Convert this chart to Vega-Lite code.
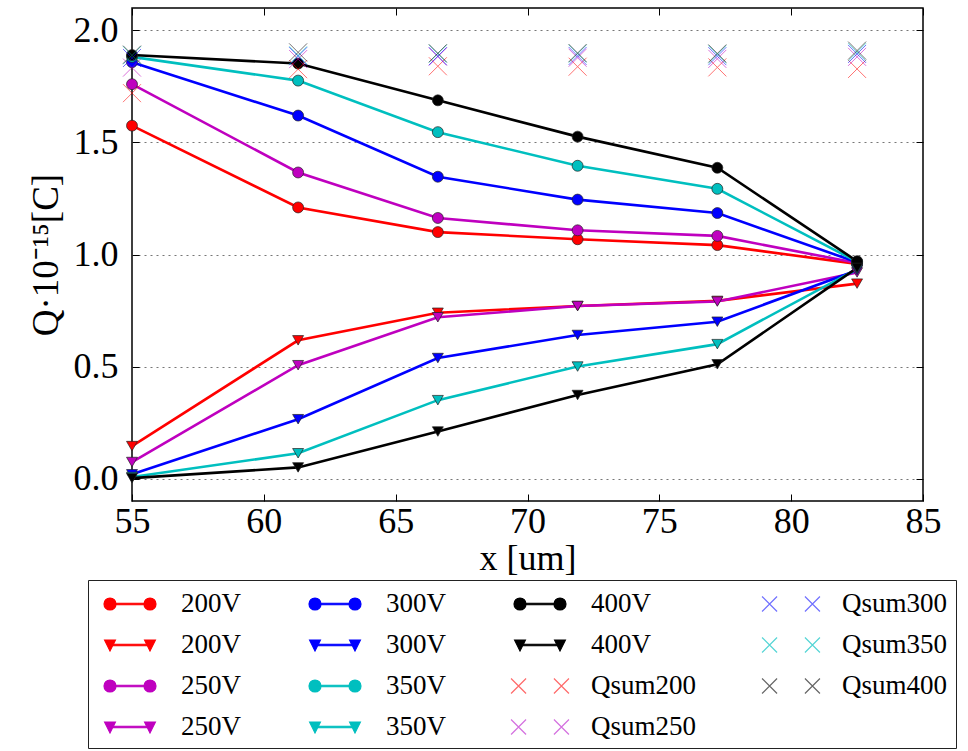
{
  "$schema": "https://vega.github.io/schema/vega-lite/v6.json",
  "autosize": {"type": "none"},
  "padding": {"left": 132, "top": 8, "right": 45, "bottom": 250},
  "width": 791,
  "height": 493,
  "background": "#ffffff",
  "config": {
    "view": {"stroke": "#000000", "strokeWidth": 1.5},
    "font": "Liberation Serif",
    "axis": {"labelFont": "Liberation Serif", "titleFont": "Liberation Serif", "labelColor": "#000", "titleColor": "#000", "titleFontWeight": "normal", "tickColor": "#000", "domain": false, "labelFlush": false},
    "legend": {"labelFont": "Liberation Serif", "labelColor": "#000"}
  },
  "data": {"values": [
    {"x": 55, "q": 1.575, "v": "200", "k": "c"}, {"x": 61.3, "q": 1.21, "v": "200", "k": "c"}, {"x": 66.6, "q": 1.10, "v": "200", "k": "c"}, {"x": 71.9, "q": 1.068, "v": "200", "k": "c"}, {"x": 77.2, "q": 1.042, "v": "200", "k": "c"}, {"x": 82.5, "q": 0.958, "v": "200", "k": "c"},
    {"x": 55, "q": 0.145, "v": "200", "k": "t"}, {"x": 61.3, "q": 0.617, "v": "200", "k": "t"}, {"x": 66.6, "q": 0.74, "v": "200", "k": "t"}, {"x": 71.9, "q": 0.77, "v": "200", "k": "t"}, {"x": 77.2, "q": 0.793, "v": "200", "k": "t"}, {"x": 82.5, "q": 0.87, "v": "200", "k": "t"},
    {"x": 55, "q": 1.76, "v": "250", "k": "c"}, {"x": 61.3, "q": 1.366, "v": "250", "k": "c"}, {"x": 66.6, "q": 1.163, "v": "250", "k": "c"}, {"x": 71.9, "q": 1.108, "v": "250", "k": "c"}, {"x": 77.2, "q": 1.083, "v": "250", "k": "c"}, {"x": 82.5, "q": 0.962, "v": "250", "k": "c"},
    {"x": 55, "q": 0.074, "v": "250", "k": "t"}, {"x": 61.3, "q": 0.506, "v": "250", "k": "t"}, {"x": 66.6, "q": 0.72, "v": "250", "k": "t"}, {"x": 71.9, "q": 0.77, "v": "250", "k": "t"}, {"x": 77.2, "q": 0.79, "v": "250", "k": "t"}, {"x": 82.5, "q": 0.92, "v": "250", "k": "t"},
    {"x": 55, "q": 1.858, "v": "300", "k": "c"}, {"x": 61.3, "q": 1.62, "v": "300", "k": "c"}, {"x": 66.6, "q": 1.347, "v": "300", "k": "c"}, {"x": 71.9, "q": 1.245, "v": "300", "k": "c"}, {"x": 77.2, "q": 1.185, "v": "300", "k": "c"}, {"x": 82.5, "q": 0.965, "v": "300", "k": "c"},
    {"x": 55, "q": 0.019, "v": "300", "k": "t"}, {"x": 61.3, "q": 0.265, "v": "300", "k": "t"}, {"x": 66.6, "q": 0.538, "v": "300", "k": "t"}, {"x": 71.9, "q": 0.641, "v": "300", "k": "t"}, {"x": 77.2, "q": 0.70, "v": "300", "k": "t"}, {"x": 82.5, "q": 0.93, "v": "300", "k": "t"},
    {"x": 55, "q": 1.882, "v": "350", "k": "c"}, {"x": 61.3, "q": 1.776, "v": "350", "k": "c"}, {"x": 66.6, "q": 1.546, "v": "350", "k": "c"}, {"x": 71.9, "q": 1.396, "v": "350", "k": "c"}, {"x": 77.2, "q": 1.293, "v": "350", "k": "c"}, {"x": 82.5, "q": 0.968, "v": "350", "k": "c"},
    {"x": 55, "q": 0.007, "v": "350", "k": "t"}, {"x": 61.3, "q": 0.113, "v": "350", "k": "t"}, {"x": 66.6, "q": 0.35, "v": "350", "k": "t"}, {"x": 71.9, "q": 0.50, "v": "350", "k": "t"}, {"x": 77.2, "q": 0.60, "v": "350", "k": "t"}, {"x": 82.5, "q": 0.935, "v": "350", "k": "t"},
    {"x": 55, "q": 1.89, "v": "400", "k": "c"}, {"x": 61.3, "q": 1.852, "v": "400", "k": "c"}, {"x": 66.6, "q": 1.688, "v": "400", "k": "c"}, {"x": 71.9, "q": 1.526, "v": "400", "k": "c"}, {"x": 77.2, "q": 1.387, "v": "400", "k": "c"}, {"x": 82.5, "q": 0.97, "v": "400", "k": "c"},
    {"x": 55, "q": 0.002, "v": "400", "k": "t"}, {"x": 61.3, "q": 0.05, "v": "400", "k": "t"}, {"x": 66.6, "q": 0.21, "v": "400", "k": "t"}, {"x": 71.9, "q": 0.373, "v": "400", "k": "t"}, {"x": 77.2, "q": 0.51, "v": "400", "k": "t"}, {"x": 82.5, "q": 0.94, "v": "400", "k": "t"},
    {"x": 55, "q": 1.72, "v": "200", "k": "s"}, {"x": 61.3, "q": 1.827, "v": "200", "k": "s"}, {"x": 66.6, "q": 1.84, "v": "200", "k": "s"}, {"x": 71.9, "q": 1.838, "v": "200", "k": "s"}, {"x": 77.2, "q": 1.835, "v": "200", "k": "s"}, {"x": 82.5, "q": 1.828, "v": "200", "k": "s"},
    {"x": 55, "q": 1.834, "v": "250", "k": "s"}, {"x": 61.3, "q": 1.872, "v": "250", "k": "s"}, {"x": 66.6, "q": 1.883, "v": "250", "k": "s"}, {"x": 71.9, "q": 1.878, "v": "250", "k": "s"}, {"x": 77.2, "q": 1.873, "v": "250", "k": "s"}, {"x": 82.5, "q": 1.882, "v": "250", "k": "s"},
    {"x": 55, "q": 1.877, "v": "300", "k": "s"}, {"x": 61.3, "q": 1.885, "v": "300", "k": "s"}, {"x": 66.6, "q": 1.885, "v": "300", "k": "s"}, {"x": 71.9, "q": 1.886, "v": "300", "k": "s"}, {"x": 77.2, "q": 1.885, "v": "300", "k": "s"}, {"x": 82.5, "q": 1.895, "v": "300", "k": "s"},
    {"x": 55, "q": 1.889, "v": "350", "k": "s"}, {"x": 61.3, "q": 1.889, "v": "350", "k": "s"}, {"x": 66.6, "q": 1.896, "v": "350", "k": "s"}, {"x": 71.9, "q": 1.896, "v": "350", "k": "s"}, {"x": 77.2, "q": 1.893, "v": "350", "k": "s"}, {"x": 82.5, "q": 1.903, "v": "350", "k": "s"},
    {"x": 55, "q": 1.892, "v": "400", "k": "s"}, {"x": 61.3, "q": 1.902, "v": "400", "k": "s"}, {"x": 66.6, "q": 1.898, "v": "400", "k": "s"}, {"x": 71.9, "q": 1.899, "v": "400", "k": "s"}, {"x": 77.2, "q": 1.897, "v": "400", "k": "s"}, {"x": 82.5, "q": 1.91, "v": "400", "k": "s"}
  ]},
  "resolve": {"axis": {"x": "independent", "y": "independent"}},
  "layer": [
    {
      "transform": [{"filter": "datum.k !== 's'"}],
      "mark": {"type": "line", "strokeWidth": 2.6},
      "encoding": {
        "x": {"field": "x", "type": "quantitative", "scale": {"domain": [55, 85], "nice": false, "zero": false},
              "axis": {"orient": "top", "values": [55, 60, 65, 70, 75, 80, 85], "labels": false, "title": null, "tickSize": -7, "grid": false}},
        "y": {"field": "q", "type": "quantitative", "scale": {"domain": [-0.1, 2.1], "nice": false, "zero": false},
              "axis": {"orient": "right", "values": [0, 0.5, 1, 1.5, 2], "labels": false, "title": null, "tickSize": -7, "grid": false}},
        "color": {"field": "v", "type": "nominal", "scale": {"domain": ["200", "250", "300", "350", "400"], "range": ["#ff0000", "#bf00bf", "#0000ff", "#00bfbf", "#000000"]}, "legend": null},
        "detail": [{"field": "v"}, {"field": "k"}]
      }
    },
    {
      "transform": [{"filter": "datum.k === 'c'"}],
      "mark": {"type": "point", "shape": "circle", "filled": true, "size": 120, "opacity": 1, "stroke": "#222222", "strokeWidth": 0.7},
      "encoding": {
        "x": {"field": "x", "type": "quantitative",
              "axis": {"orient": "bottom", "values": [55, 60, 65, 70, 75, 80, 85], "labelFontSize": 36, "title": "x [um]", "titleFontSize": 36, "tickSize": -7, "labelPadding": 10, "titlePadding": 2, "grid": false}},
        "y": {"field": "q", "type": "quantitative",
              "axis": {"orient": "left", "values": [0, 0.5, 1, 1.5, 2], "format": ".1f", "labelFontSize": 36, "title": "Q·10⁻¹⁵[C]", "titleFontSize": 37, "grid": true, "gridDash": [2, 4], "gridColor": "#777777", "gridWidth": 1, "tickSize": -7, "labelPadding": 21, "titlePadding": 8}},
        "color": {"field": "v", "type": "nominal", "legend": null}
      }
    },
    {
      "transform": [{"filter": "datum.k === 't'"}],
      "mark": {"type": "point", "shape": "triangle-down", "filled": true, "size": 120, "opacity": 1, "stroke": "#222222", "strokeWidth": 0.7},
      "encoding": {
        "x": {"field": "x", "type": "quantitative", "axis": null},
        "y": {"field": "q", "type": "quantitative", "axis": null},
        "color": {"field": "v", "type": "nominal", "legend": null}
      }
    },
    {
      "transform": [{"filter": "datum.k === 's'"}],
      "mark": {"type": "point", "shape": "M-1,-1L1,1M-1,1L1,-1", "filled": false, "size": 324, "opacity": 0.55, "strokeWidth": 1},
      "encoding": {
        "x": {"field": "x", "type": "quantitative", "axis": null},
        "y": {"field": "q", "type": "quantitative", "axis": null},
        "color": {"field": "v", "type": "nominal", "legend": null}
      }
    },
    {
      "transform": [{"filter": "false"}],
      "mark": {"type": "point", "filled": true, "opacity": 1, "size": 900},
      "encoding": {
        "shape": {"field": "e", "type": "nominal",
          "scale": {"domain": ["200V|c", "200V|t", "250V|c", "250V|t", "300V|c", "300V|t", "350V|c", "350V|t", "400V|c", "400V|t", "Qsum200|s", "Qsum250|s", "Qsum300|s", "Qsum350|s", "Qsum400|s"],
                    "range": [
                      "M-1.333,-0.05L1.333,-0.05L1.333,0.05L-1.333,0.05ZM-1.733,0A0.4,0.4,0,1,1,-0.933,0A0.4,0.4,0,1,1,-1.733,0ZM0.933,0A0.4,0.4,0,1,1,1.733,0A0.4,0.4,0,1,1,0.933,0Z",
                      "M-1.333,-0.05L1.333,-0.05L1.333,0.05L-1.333,0.05ZM-1.693,-0.33L-0.973,-0.33L-1.333,0.4ZM0.973,-0.33L1.693,-0.33L1.333,0.4Z",
                      "M-1.333,-0.05L1.333,-0.05L1.333,0.05L-1.333,0.05ZM-1.733,0A0.4,0.4,0,1,1,-0.933,0A0.4,0.4,0,1,1,-1.733,0ZM0.933,0A0.4,0.4,0,1,1,1.733,0A0.4,0.4,0,1,1,0.933,0Z",
                      "M-1.333,-0.05L1.333,-0.05L1.333,0.05L-1.333,0.05ZM-1.693,-0.33L-0.973,-0.33L-1.333,0.4ZM0.973,-0.33L1.693,-0.33L1.333,0.4Z",
                      "M-1.333,-0.05L1.333,-0.05L1.333,0.05L-1.333,0.05ZM-1.733,0A0.4,0.4,0,1,1,-0.933,0A0.4,0.4,0,1,1,-1.733,0ZM0.933,0A0.4,0.4,0,1,1,1.733,0A0.4,0.4,0,1,1,0.933,0Z",
                      "M-1.333,-0.05L1.333,-0.05L1.333,0.05L-1.333,0.05ZM-1.693,-0.33L-0.973,-0.33L-1.333,0.4ZM0.973,-0.33L1.693,-0.33L1.333,0.4Z",
                      "M-1.333,-0.05L1.333,-0.05L1.333,0.05L-1.333,0.05ZM-1.733,0A0.4,0.4,0,1,1,-0.933,0A0.4,0.4,0,1,1,-1.733,0ZM0.933,0A0.4,0.4,0,1,1,1.733,0A0.4,0.4,0,1,1,0.933,0Z",
                      "M-1.333,-0.05L1.333,-0.05L1.333,0.05L-1.333,0.05ZM-1.693,-0.33L-0.973,-0.33L-1.333,0.4ZM0.973,-0.33L1.693,-0.33L1.333,0.4Z",
                      "M-1.333,-0.05L1.333,-0.05L1.333,0.05L-1.333,0.05ZM-1.733,0A0.4,0.4,0,1,1,-0.933,0A0.4,0.4,0,1,1,-1.733,0ZM0.933,0A0.4,0.4,0,1,1,1.733,0A0.4,0.4,0,1,1,0.933,0Z",
                      "M-1.333,-0.05L1.333,-0.05L1.333,0.05L-1.333,0.05ZM-1.693,-0.33L-0.973,-0.33L-1.333,0.4ZM0.973,-0.33L1.693,-0.33L1.333,0.4Z",
                      "M-1.93,-0.5L-0.93,0.5M-1.93,0.5L-0.93,-0.5M0.93,-0.5L1.93,0.5M0.93,0.5L1.93,-0.5",
                      "M-1.93,-0.5L-0.93,0.5M-1.93,0.5L-0.93,-0.5M0.93,-0.5L1.93,0.5M0.93,0.5L1.93,-0.5",
                      "M-1.93,-0.5L-0.93,0.5M-1.93,0.5L-0.93,-0.5M0.93,-0.5L1.93,0.5M0.93,0.5L1.93,-0.5",
                      "M-1.93,-0.5L-0.93,0.5M-1.93,0.5L-0.93,-0.5M0.93,-0.5L1.93,0.5M0.93,0.5L1.93,-0.5",
                      "M-1.93,-0.5L-0.93,0.5M-1.93,0.5L-0.93,-0.5M0.93,-0.5L1.93,0.5M0.93,0.5L1.93,-0.5"
                    ]},
          "legend": {"title": null, "orient": "none", "legendX": -44, "legendY": 572, "columns": 4, "symbolSize": 900, "symbolOffset": 18, "labelOffset": 35, "rowPadding": 12, "columnPadding": 60, "padding": 8, "labelFont": "Liberation Serif", "labelFontSize": 27, "labelColor": "#000", "strokeColor": "#222222", "fillColor": "#ffffff", "symbolStrokeWidth": 1.2, "labelLimit": 300, "labelExpr": "split(datum.label, '|')[0]"}},
        "fill": {"field": "e", "type": "nominal",
          "scale": {"domain": ["200V|c", "200V|t", "250V|c", "250V|t", "300V|c", "300V|t", "350V|c", "350V|t", "400V|c", "400V|t", "Qsum200|s", "Qsum250|s", "Qsum300|s", "Qsum350|s", "Qsum400|s"],
                    "range": ["#ff0000", "#ff0000", "#bf00bf", "#bf00bf", "#0000ff", "#0000ff", "#00bfbf", "#00bfbf", "#000000", "#000000", "#ff6a6a", "#d470e0", "#7070ff", "#55d5d5", "#666666"]},
          "legend": {"title": null, "orient": "none", "legendX": -44, "legendY": 572, "columns": 4, "symbolSize": 900, "symbolOffset": 18, "labelOffset": 35, "rowPadding": 12, "columnPadding": 60, "padding": 8, "labelFont": "Liberation Serif", "labelFontSize": 27, "labelColor": "#000", "strokeColor": "#222222", "fillColor": "#ffffff", "symbolStrokeWidth": 1.2, "labelLimit": 300, "labelExpr": "split(datum.label, '|')[0]"}},
        "stroke": {"field": "e", "type": "nominal",
          "scale": {"domain": ["200V|c", "200V|t", "250V|c", "250V|t", "300V|c", "300V|t", "350V|c", "350V|t", "400V|c", "400V|t", "Qsum200|s", "Qsum250|s", "Qsum300|s", "Qsum350|s", "Qsum400|s"],
                    "range": ["#ff0000", "#ff0000", "#bf00bf", "#bf00bf", "#0000ff", "#0000ff", "#00bfbf", "#00bfbf", "#000000", "#000000", "#ff6a6a", "#d470e0", "#7070ff", "#55d5d5", "#666666"]},
          "legend": {"title": null, "orient": "none", "legendX": -44, "legendY": 572, "columns": 4, "symbolSize": 900, "symbolOffset": 18, "labelOffset": 35, "rowPadding": 12, "columnPadding": 60, "padding": 8, "labelFont": "Liberation Serif", "labelFontSize": 27, "labelColor": "#000", "strokeColor": "#222222", "fillColor": "#ffffff", "symbolStrokeWidth": 1.2, "labelLimit": 300, "labelExpr": "split(datum.label, '|')[0]"}}
      }
    }
  ]
}
